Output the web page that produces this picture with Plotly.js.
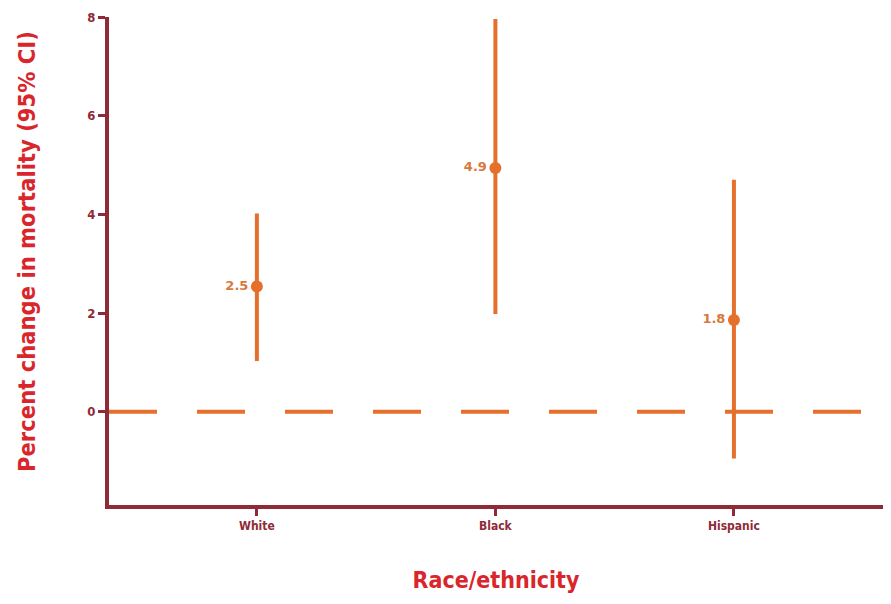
<!DOCTYPE html>
<html>
<head>
<meta charset="utf-8">
<script src="https://cdn.plot.ly/plotly-3.0.1.min.js"></script>
<style>html,body{margin:0;padding:0;background:#fff;}#chart{width:891px;height:604px;}</style>
</head>
<body>
<div id="chart"></div>
<script>
const categories = ["White", "Black", "Hispanic"];
const estimates = [2.54, 4.94, 1.86];
const lowerCI = [1.03, 1.98, -0.95];
const upperCI = [4.02, 7.96, 4.7];
const pointLabels = ["2.5", "4.9", "1.8"];
const yTicks = [0, 2, 4, 6, 8];
const xTitle = "Race/ethnicity";
const yTitle = "Percent change in mortality (95% CI)";

const maroon = "#8f2b37";
const orange = "#e4702c";
const titleRed = "#d9262c";
const boldFont = "DejaVu Sans Condensed, DejaVu Sans, sans-serif";

const xIdx = categories.map((c, i) => i);

const trace = {
  type: "scatter",
  mode: "markers+text",
  x: xIdx,
  y: estimates,
  text: pointLabels,
  textposition: "middle left",
  textfont: {family: "DejaVu Sans, sans-serif", size: 13, color: "#d9783c", weight: "bold"},
  marker: {size: 12, color: orange},
  error_y: {
    type: "data",
    symmetric: false,
    array: upperCI.map((u, i) => u - estimates[i]),
    arrayminus: estimates.map((e, i) => e - lowerCI[i]),
    color: orange,
    thickness: 4,
    width: 0
  },
  cliponaxis: false,
  hoverinfo: "skip"
};

const layout = {
  width: 891,
  height: 604,
  margin: {l: 109, r: 8, t: 17, b: 99},
  paper_bgcolor: "#ffffff",
  plot_bgcolor: "#ffffff",
  showlegend: false,
  xaxis: {
    range: [-0.62, 2.625],
    tickmode: "array",
    tickvals: xIdx,
    ticktext: categories,
    showgrid: false,
    zeroline: false,
    showline: true,
    linecolor: maroon,
    linewidth: 4,
    ticks: "outside",
    ticklen: 7,
    tickwidth: 3,
    tickcolor: maroon,
    tickfont: {family: boldFont, size: 12, color: maroon, weight: "bold"},
    title: {text: xTitle, font: {family: boldFont, size: 23, color: titleRed, weight: "bold"}, standoff: 40}
  },
  yaxis: {
    range: [-1.89, 8.0],
    tickmode: "array",
    tickvals: yTicks,
    ticktext: yTicks.map(String),
    showgrid: false,
    zeroline: false,
    showline: true,
    linecolor: maroon,
    linewidth: 4,
    ticks: "outside",
    ticklen: 7,
    tickwidth: 3,
    tickcolor: maroon,
    tickfont: {family: boldFont, size: 13, color: maroon, weight: "bold"}
  },
  annotations: [{
    text: yTitle,
    xref: "paper", yref: "paper",
    x: -0.105, y: 0.52,
    xanchor: "center", yanchor: "middle",
    textangle: -90,
    showarrow: false,
    font: {family: boldFont, size: 23.5, color: titleRed, weight: "bold"}
  }],
  shapes: [{
    type: "line",
    xref: "paper",
    yref: "y",
    x0: 0, x1: 1,
    y0: 0, y1: 0,
    line: {color: orange, width: 4, dash: "48px,40px"},
    layer: "below"
  }]
};

Plotly.newPlot("chart", [trace], layout, {displayModeBar: false, staticPlot: true});
</script>
</body>
</html>
